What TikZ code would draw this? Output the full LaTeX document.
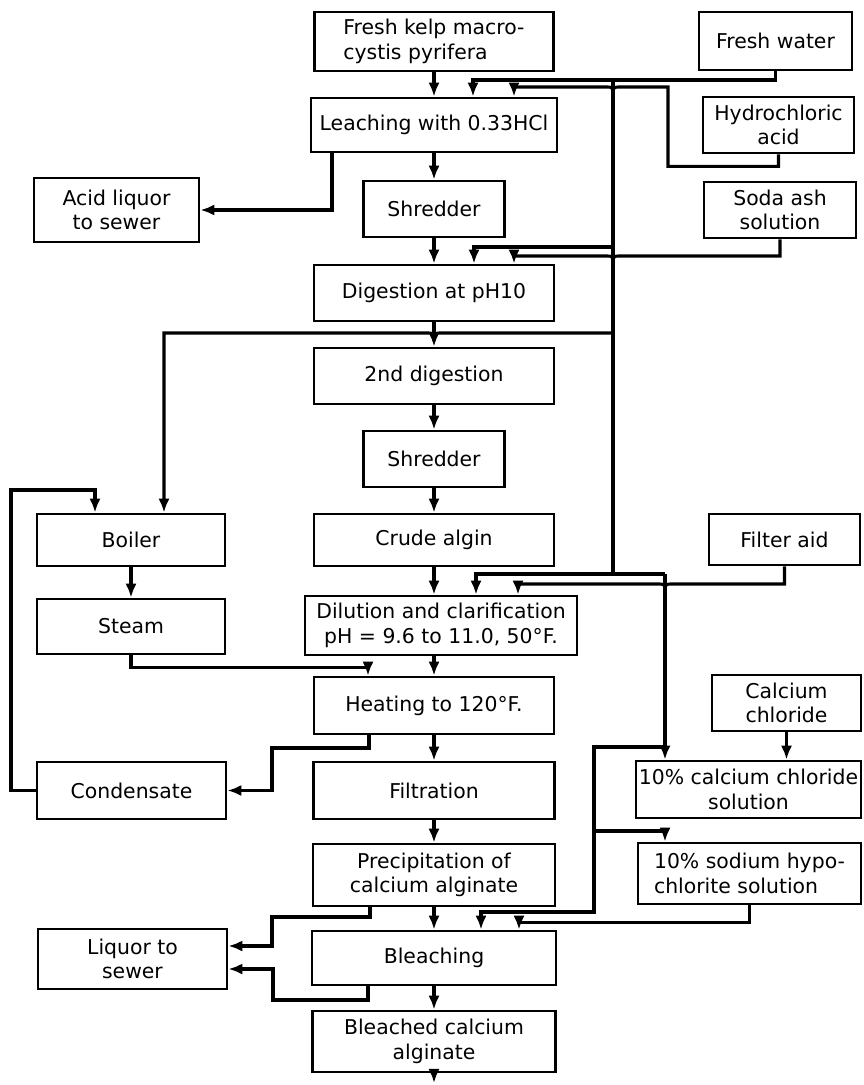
\documentclass[tikz,border=0pt]{standalone}
\usepackage{fontspec}
\setmainfont{DejaVu Sans}
\usetikzlibrary{positioning,arrows.meta,calc}

\tikzset{
  procbox/.style={rectangle, draw, line width=2pt, align=center, inner sep=2pt,
    font=\fontsize{14.5}{17.5}\selectfont},
  boxsize/.style n args={2}{minimum width=#1*0.025cm, minimum height=#2*0.025cm},
  flow/.style={line width=2.2pt}
}

\begin{document}
\begin{tikzpicture}[x=0.025cm, y=-0.025cm, >={Latex[length=10pt,width=8pt]}]
\useasboundingbox (0,0) rectangle (863,1085);

% main process line
\node[procbox, boxsize={239}{59}, align=left] (kelp) at (434,41.5) {Fresh kelp macro-\\cystis pyrifera};
\node[procbox, boxsize={246}{54}] (leach) at (434,125) {Leaching with 0.33HCl};
\node[procbox, boxsize={141}{56}] (shred1) at (434,209) {Shredder};
\node[procbox, boxsize={240}{56}] (digest) at (434,293) {Digestion at pH10};
\node[procbox, boxsize={240}{56}] (dig2) at (434,376) {2nd digestion};
\node[procbox, boxsize={141}{56}] (shred2) at (434,459) {Shredder};
\node[procbox, boxsize={240}{52}] (crude) at (434,540) {Crude algin};
\node[procbox, boxsize={272}{59}] (dilut) at (441,625.5) {Dilution and clarification\\pH = 9.6 to 11.0, 50°F.};
\node[procbox, boxsize={240}{57}] (heat) at (434,705.5) {Heating to 120°F.};
\node[procbox, boxsize={241}{57}] (filt) at (434,790.5) {Filtration};
\node[procbox, boxsize={242}{62}] (precip) at (434,875) {Precipitation of\\calcium alginate};
\node[procbox, boxsize={244}{54}] (bleach) at (434,958) {Bleaching};
\node[procbox, boxsize={243}{61}] (bleached) at (434,1041.5) {Bleached calcium\\alginate};

% left column
\node[procbox, boxsize={165}{64}] (acid) at (116.5,210) {Acid liquor\\to sewer};
\node[procbox, boxsize={188}{52}] (boiler) at (131,540) {Boiler};
\node[procbox, boxsize={188}{55}] (steam) at (131,626.5) {Steam};
\node[procbox, boxsize={189}{57}] (cond) at (131.5,790.5) {Condensate};
\node[procbox, boxsize={189}{60}] (liquor) at (132.5,959) {Liquor to\\sewer};

% right column
\node[procbox, boxsize={153}{58}] (fwater) at (775.5,41) {Fresh water};
\node[procbox, boxsize={151}{56}] (hcl) at (778.5,125) {Hydrochloric\\acid};
\node[procbox, boxsize={152}{56}] (soda) at (780,210) {Soda ash\\solution};
\node[procbox, boxsize={151}{51}] (filter) at (784.5,539.5) {Filter aid};
\node[procbox, boxsize={149}{56}] (cacl) at (786.5,703) {Calcium\\chloride};
\node[procbox, boxsize={225}{57}] (cacl10) at (748.5,789.5) {10\% calcium chloride\\solution};
\node[procbox, boxsize={223}{61}, align=left] (hypo) at (749.5,873.5) {10\% sodium hypo-\\chlorite solution};

% junctions of the water main
\coordinate (w0) at (613,80);
\coordinate (w1) at (613,247);
\coordinate (w2) at (613,333);
\coordinate (w3) at (613,574);
\coordinate (w4) at (665,574);
\coordinate (w5) at (665,747);
\coordinate (b2) at (594,831);
\coordinate (b3) at (594,912);
\coordinate (m2) at (434,341);
\coordinate (outflow) at (434,1083);

% main chain
\foreach \a/\b in {kelp/leach, leach/shred1, shred1/digest, digest/dig2, dig2/shred2,
                   shred2/crude, heat/filt, filt/precip, precip/bleach, bleach/bleached}
  \draw[flow,->] (\a) -- (\b);
\draw[flow,->] (crude.south) -- (crude.south |- dilut.north);
\draw[flow,->] (heat.north |- dilut.south) -- (heat.north);
\draw[flow,->] (bleached) -- (outflow);

% fresh water main
\draw[flow,->] (fwater.south) |- (w0) -| ($(leach.north)+(39,0)$);
\draw[flow] (w0) -- (w3) -- (w4);
\draw[flow,->] (w4) -- (w4 |- cacl10.north);
\draw[flow,->] (w3) -| ($(dilut.north)+(35,0)$);
\draw[flow,->] (w1) -| ($(digest.north)+(40,0)$);
\draw[flow] (w2) -- (442,333) .. controls (434,333) .. (m2);
\draw[flow,->] (m2) .. controls (434,333) .. (426,333) -| ($(boiler.north)+(33,0)$);

% acid, soda ash, filter aid
\draw[flow,->] (hcl.south) -- ++(0,12) -| (668,87) -- (621,87) .. controls (613,87) .. (613,95)
  .. controls (613,87) .. (605,87) -| ($(leach.north)+(80,0)$);
\draw[flow,->] (soda.south) |- (621,256) .. controls (613,256) .. (613,264)
  .. controls (613,256) .. (605,256) -| ($(digest.north)+(80,0)$);
\draw[flow,->] (filter.south) |- (673,584) .. controls (665,584) .. (665,592)
  .. controls (665,584) .. (657,584) -| ($(dilut.north)+(77,0)$);

% calcium chloride and bleaching feeds
\draw[flow,->] (cacl.south) -- (cacl.south |- cacl10.north);
\draw[flow,->] (w5) -| (b3) -| ($(bleach.north)+(47,0)$);
\draw[flow,->] (b2) -| (w5 |- hypo.north);
\draw[flow,->] (hypo.south) -- ++(0,17) -| ($(bleach.north)+(85,0)$);

% boiler loop
\draw[flow,->] (boiler) -- (steam);
\draw[flow,->] (steam.south) -- ++(0,12) -| ($(heat.north)+(-66,0)$);
\draw[flow,->] ($(heat.south)+(-65,0)$) |- (272,748) |- (cond.east);
\draw[flow,->] (cond.west) -| (11,490) -| ($(boiler.north)+(-36,0)$);

% to sewer
\draw[flow,->] ($(leach.south)+(-102,0)$) |- (acid.east);
\draw[flow,->] ($(precip.south)+(-64,0)$) |- (272,917) |- ($(liquor.east)+(0,-13)$);
\draw[flow,->] ($(bleach.south)+(-66,0)$) |- (273,1000) |- ($(liquor.east)+(0,10)$);
\end{tikzpicture}
\end{document}
